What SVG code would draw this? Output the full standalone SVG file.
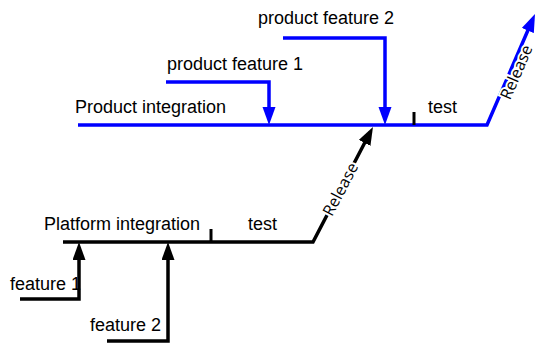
<svg xmlns="http://www.w3.org/2000/svg" width="537" height="345" viewBox="0 0 537 345">
<style>
.b{stroke:#0000ff;stroke-width:3.5;fill:none}
.k{stroke:#000;stroke-width:3.5;fill:none}
.t{font-family:"Liberation Sans",Arial,sans-serif;font-size:18px;fill:#000}
.r{font-family:"Open Sans","Liberation Sans",sans-serif;font-size:16px;fill:#000;stroke:#fff;stroke-width:4;paint-order:stroke;text-anchor:middle;dominant-baseline:central}
</style>
<defs>
<marker id="ab" markerUnits="userSpaceOnUse" markerWidth="20" markerHeight="14" refX="12" refY="6.5" orient="auto"><path d="M0,0 L18,6.5 L0,13 z" fill="#0000ff"/></marker>
<marker id="ak" markerUnits="userSpaceOnUse" markerWidth="20" markerHeight="14" refX="12" refY="6.5" orient="auto"><path d="M0,0 L18,6.5 L0,13 z" fill="#000"/></marker>
</defs>
<rect width="537" height="345" fill="#fff"/>
<g id="feature-1"><text class="t" x="10" y="290">feature 1</text></g>
<g id="connectors">
<path class="b" d="M78,125 H487 L532.6,19.5" marker-end="url(#ab)"/>
<path class="k" d="M414,112 V125" style="stroke-width:3"/>
<path class="b" d="M166,82 H269 V119" marker-end="url(#ab)"/>
<path class="b" d="M283,38 H385 V119" marker-end="url(#ab)"/>
<path class="k" d="M63,242 H313 L370.2,132.3" marker-end="url(#ak)"/>
<path class="k" d="M211,229 V242" style="stroke-width:3"/>
<path class="k" d="M20,299 H79 V248" marker-end="url(#ak)"/>
<path class="k" d="M107,341 H168 V248" marker-end="url(#ak)"/>
</g>
<g id="product-integration"><text class="t" x="75" y="113">Product integration</text></g>
<g id="product-feature-1"><text class="t" x="167" y="70">product feature 1</text></g>
<g id="product-feature-2"><text class="t" x="258" y="24">product feature 2</text></g>
<g id="product-test"><text class="t" x="428" y="113">test</text></g>
<g id="product-release"><text class="r" x="516" y="72" transform="rotate(-66.6 516 72)">Release</text></g>
<g id="platform-integration"><text class="t" x="44" y="230">Platform integration</text></g>
<g id="platform-test"><text class="t" x="248" y="230">test</text></g>
<g id="platform-release"><text class="r" x="340" y="189" transform="rotate(-62.4 340 189)">Release</text></g>
<g id="feature-2"><text class="t" x="90" y="331">feature 2</text></g>
</svg>
